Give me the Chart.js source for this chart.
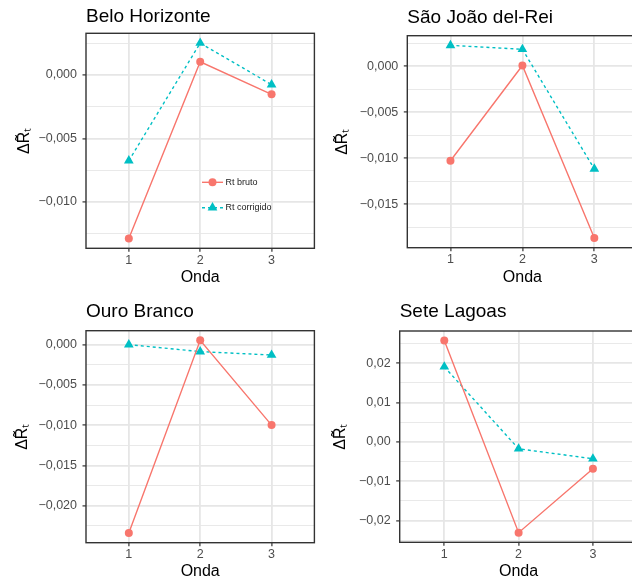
<!DOCTYPE html>
<html>
<head>
<meta charset="utf-8">
<script src="https://cdn.jsdelivr.net/npm/chart.js@4.4.1/dist/chart.umd.min.js"></script>
<style>
  html, body { margin: 0; padding: 0; background: #fff; overflow: hidden; width: 632px; height: 579px; }
  canvas { position: absolute; }
</style>
</head>
<body>
<canvas id="c1"></canvas>
<canvas id="c2"></canvas>
<canvas id="c3"></canvas>
<canvas id="c4"></canvas>
<script>
// data
const waves = [1, 2, 3];
const seriesNames = ['Rt bruto', 'Rt corrigido'];

const bhBruto = [-0.01287, 0.00103, -0.00153];
const bhCorrigido = [-0.00675, 0.00250, -0.00077];
const bhTicks = [0, -0.005, -0.010];

const sjBruto = [-0.01027, 0.00007, -0.01866];
const sjCorrigido = [0.00226, 0.00183, -0.01116];
const sjTicks = [0, -0.005, -0.010, -0.015];

const obBruto = [-0.02339, 0.00053, -0.00999];
const obCorrigido = [0.00000, -0.00087, -0.00129];
const obTicks = [0, -0.005, -0.010, -0.015, -0.020];

const slBruto = [0.02575, -0.02311, -0.00684];
const slCorrigido = [0.01909, -0.00177, -0.00430];
const slTicks = [0.02, 0.01, 0, -0.01, -0.02];

const red = '#F8766D';
const teal = '#00BFC4';

Chart.defaults.font.family = "'Liberation Sans', Arial, sans-serif";

const panels = [
  { id: 'c1', title: 'Belo Horizonte', bruto: bhBruto, corrigido: bhCorrigido, ticks: bhTicks, decimals: 3, legend: true,
    box: { x: 0, y: 0, w: 320, h: 290 }, plot: { l: 86, r: 316, t: 33.3, b: 248.3 }, titleY: 17, yTitleX: 25, xTitleY: 277.5 },
  { id: 'c2', title: 'São João del-Rei', bruto: sjBruto, corrigido: sjCorrigido, ticks: sjTicks, decimals: 3, legend: false,
    box: { x: 316, y: 0, w: 330, h: 290 }, plot: { l: 407.3, r: 637.5, t: 35.7, b: 247.7 }, titleY: 18, yTitleX: 343, xTitleY: 278 },
  { id: 'c3', title: 'Ouro Branco', bruto: obBruto, corrigido: obCorrigido, ticks: obTicks, decimals: 3, legend: false,
    box: { x: 0, y: 290, w: 320, h: 300 }, plot: { l: 86, r: 316, t: 330.7, b: 542.7 }, titleY: 311.3, yTitleX: 23, xTitleY: 572 },
  { id: 'c4', title: 'Sete Lagoas', bruto: slBruto, corrigido: slCorrigido, ticks: slTicks, decimals: 2, legend: false,
    box: { x: 316, y: 290, w: 330, h: 300 }, plot: { l: 399.7, r: 637.5, t: 331, b: 542.3 }, titleY: 311.3, yTitleX: 341, xTitleY: 572 }
];

// panel border on top of everything, like ggplot's theme_bw
const panelFrame = {
  id: 'panelFrame',
  afterDatasetsDraw(chart) {
    const { ctx, chartArea: a } = chart;
    ctx.save();
    ctx.strokeStyle = '#333333';
    ctx.lineWidth = 1.4;
    ctx.strokeRect(a.left, a.top, a.right - a.left, a.bottom - a.top);
    ctx.restore();
  }
};

// legend drawn inside the first panel with line + marker keys
const keyLegend = {
  id: 'keyLegend',
  afterDatasetsDraw(chart, args, o) {
    const ctx = chart.ctx;
    chart.data.datasets.forEach((ds, i) => {
      const y = o.y + i * o.rowGap;
      ctx.save();
      ctx.strokeStyle = ds.borderColor;
      ctx.lineWidth = ds.borderWidth;
      ctx.setLineDash(ds.borderDash || []);
      ctx.beginPath();
      ctx.moveTo(o.x, y);
      ctx.lineTo(o.x + o.keyWidth, y);
      ctx.stroke();
      ctx.setLineDash([]);
      ctx.fillStyle = ds.borderColor;
      Chart.helpers.drawPoint(ctx, { pointStyle: ds.pointStyle, radius: ds.pointRadius, borderWidth: 0, rotation: 0 },
        o.x + o.keyWidth / 2, y);
      ctx.fillStyle = o.color;
      ctx.font = o.font;
      ctx.textBaseline = 'middle';
      ctx.textAlign = 'left';
      ctx.fillText(ds.label, o.x + o.keyWidth + o.textGap, y);
      ctx.restore();
    });
  }
};

function fmt(v, d) {
  return v.toFixed(d).replace('.', ',').replace('-', '\u2212');
}

function makePanel(p) {
  const canvas = document.getElementById(p.id);
  canvas.width = p.box.w;
  canvas.height = p.box.h;
  canvas.style.left = p.box.x + 'px';
  canvas.style.top = p.box.y + 'px';

  // ggplot default 5% expansion of the data range
  const all = p.bruto.concat(p.corrigido);
  const lo = Math.min(...all), hi = Math.max(...all);
  const ex = (hi - lo) * 0.05;
  const yMin = lo - ex, yMax = hi + ex;

  const step = Math.abs(p.ticks[0] - p.ticks[1]);
  const isMajor = v => p.ticks.some(t => Math.abs(t - v) < 1e-9);
  let gridVals = p.ticks.slice();
  p.ticks.forEach(t => {
    [t - step / 2, t + step / 2].forEach(m => {
      if (m > yMin && m < yMax && !gridVals.some(g => Math.abs(g - m) < 1e-9)) gridVals.push(m);
    });
  });
  gridVals.sort((a, b) => a - b);

  new Chart(canvas, {
    type: 'line',
    data: {
      datasets: [
        {
          label: seriesNames[0],
          data: waves.map((w, i) => ({ x: w, y: p.bruto[i] })),
          borderColor: red, backgroundColor: red, borderWidth: 1.4,
          pointStyle: 'circle', pointRadius: 4, pointBackgroundColor: red, pointBorderWidth: 0,
          tension: 0
        },
        {
          label: seriesNames[1],
          data: waves.map((w, i) => ({ x: w, y: p.corrigido[i] })),
          borderColor: teal, backgroundColor: teal, borderWidth: 1.4, borderDash: [3, 3],
          pointStyle: 'triangle', pointRadius: 5.6, pointBackgroundColor: teal, pointBorderWidth: 0,
          tension: 0
        }
      ]
    },
    options: {
      responsive: false,
      animation: false,
      devicePixelRatio: 1,
      layout: { padding: { left: 0, top: 0, bottom: 0, right: p.box.x + p.box.w - p.plot.r } },
      plugins: {
        legend: { display: false },
        tooltip: { enabled: false },
        title: {
          display: true, text: p.title, align: 'start', fullSize: false, color: '#000',
          font: { size: 19, lineHeight: 1.2, weight: 'normal' },
          padding: { top: p.titleY - p.box.y - 11.4, bottom: p.plot.t - p.titleY - 11.4 }
        },
        keyLegend: p.legend ? {
          x: 202, y: 182.3, rowGap: 25.4, keyWidth: 21, textGap: 2.5,
          font: "9px 'Liberation Sans', Arial, sans-serif", color: '#1a1a1a'
        } : false
      },
      scales: {
        x: {
          type: 'linear', min: 0.4, max: 3.6,
          afterBuildTicks: s => { s.ticks = waves.map(v => ({ value: v })); },
          afterFit: s => { s.height = p.box.y + p.box.h - p.plot.b; },
          grid: { color: '#e6e6e6', lineWidth: 1.8, tickLength: 3.5, tickColor: '#333333', tickWidth: 1.2 },
          border: { display: false },
          ticks: { autoSkip: false, maxRotation: 0, padding: 1, color: '#4d4d4d',
                   font: { size: 12.5, lineHeight: 1.2 }, callback: v => String(v) },
          title: { display: true, text: 'Onda', color: '#000', font: { size: 16, lineHeight: 1.2 },
                   padding: { top: 0, bottom: p.box.y + p.box.h - p.xTitleY - 9.6 } }
        },
        y: {
          type: 'linear', min: yMin, max: yMax,
          afterBuildTicks: s => { s.ticks = gridVals.map(v => ({ value: v })); },
          afterFit: s => { s.width = p.plot.l - p.box.x; },
          grid: {
            color: '#e6e6e6',
            lineWidth: c => (c.tick && isMajor(c.tick.value)) ? 1.8 : 0.9,
            tickLength: 3.5,
            tickColor: c => (c.tick && isMajor(c.tick.value)) ? '#333333' : 'rgba(0,0,0,0)',
            tickWidth: 1.2
          },
          border: { display: false },
          ticks: { autoSkip: false, padding: 5.5, color: '#4d4d4d', font: { size: 12.5, lineHeight: 1.2 },
                   callback: v => isMajor(v) ? fmt(v, p.decimals) : '' },
          title: { display: true, text: '\u0394R\u0303\u209C', color: '#000', font: { size: 16, lineHeight: 1.2 },
                   padding: { top: p.yTitleX - p.box.x - 9.6, bottom: 0 } }
        }
      }
    },
    plugins: [panelFrame, keyLegend]
  });
}

panels.forEach(makePanel);
</script>
</body>
</html>
